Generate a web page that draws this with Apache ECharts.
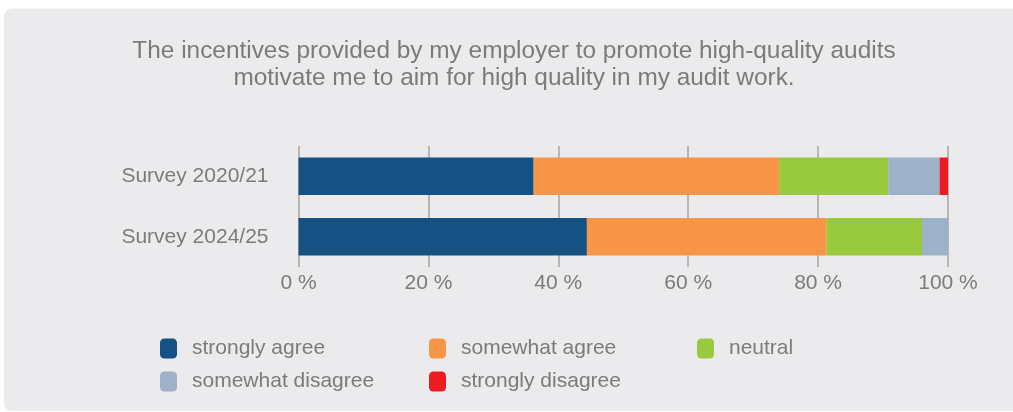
<!DOCTYPE html>
<html>
<head>
<meta charset="utf-8">
<script src="https://cdn.jsdelivr.net/npm/echarts@6/dist/echarts.min.js"></script>
<style>
  html, body { margin: 0; padding: 0; background: #ffffff; }
  #chart { width: 1013px; height: 412px; }
</style>
</head>
<body>
<div id="chart"></div>
<script>
// Survey periods (top to bottom)
const categories = ['Survey 2020/21', 'Survey 2024/25'];

// Share of responses per answer, in percent
const stronglyAgree    = [36.2, 44.4];
const somewhatAgree    = [37.8, 36.9];
const neutral          = [16.8, 14.7];
const somewhatDisagree = [7.9, 4.0];
const stronglyDisagree = [1.3, 0];

const xTicks = [0, 20, 40, 60, 80, 100];

const seriesNames = ['strongly agree', 'somewhat agree', 'neutral', 'somewhat disagree', 'strongly disagree'];
const seriesValues = [stronglyAgree, somewhatAgree, neutral, somewhatDisagree, stronglyDisagree];
const colors = ['#155182', '#f79646', '#99c93c', '#9db2c9', '#ed1c24'];

const textColor = '#7b7b7b';
const fontFamily = '"Liberation Sans", Arial, Helvetica, sans-serif';

const chart = echarts.init(document.getElementById('chart'), null, { renderer: 'canvas' });

// legend entries placed in a 3-column grid
const legendSlots = [
  { left: 160, top: 338 },
  { left: 429, top: 338 },
  { left: 697, top: 338 },
  { left: 160, top: 371 },
  { left: 429, top: 371 }
];

const legends = seriesNames.map((name, i) => ({
  data: [name],
  left: legendSlots[i].left,
  top: legendSlots[i].top,
  icon: 'roundRect',
  itemWidth: 17,
  itemHeight: 20,
  itemGap: 0,
  padding: 0,
  selectedMode: false,
  textStyle: { color: textColor, fontSize: 21, fontFamily: fontFamily, padding: [0, 0, 0, 10] }
}));

chart.setOption({
  animation: false,
  color: colors,
  graphic: [{
    type: 'rect',
    z: -10,
    silent: true,
    shape: { x: 4, y: 8.5, width: 1030, height: 402.5, r: 8 },
    style: { fill: '#ebebed' }
  }],
  title: {
    text: 'The incentives provided by my employer to promote high-quality audits\nmotivate me to aim for high quality in my audit work.',
    left: 509,
    top: 33,
    textAlign: 'center',
    textStyle: {
      color: textColor,
      fontSize: 24.4,
      fontWeight: 'normal',
      fontFamily: fontFamily,
      lineHeight: 27
    }
  },
  legend: legends,
  grid: { left: 298.5, right: 65, top: 146, height: 121, containLabel: false },
  xAxis: {
    type: 'value',
    min: xTicks[0],
    max: xTicks[xTicks.length - 1],
    interval: 20,
    axisLine: { show: false },
    axisTick: { show: false },
    axisLabel: {
      color: textColor,
      fontSize: 21,
      fontFamily: fontFamily,
      margin: 6,
      formatter: v => v + ' %'
    },
    splitLine: { show: true, lineStyle: { color: '#a5a5a5', width: 1.5 } }
  },
  yAxis: {
    type: 'category',
    data: categories,
    inverse: true,
    axisLine: { show: false },
    axisTick: { show: false },
    axisLabel: { color: textColor, fontSize: 21, fontFamily: fontFamily, margin: 30 }
  },
  series: seriesNames.map((name, i) => ({
    name: name,
    type: 'bar',
    stack: 'total',
    barCategoryGap: '38%',
    data: seriesValues[i],
    itemStyle: { color: colors[i] }
  }))
});
</script>
</body>
</html>
